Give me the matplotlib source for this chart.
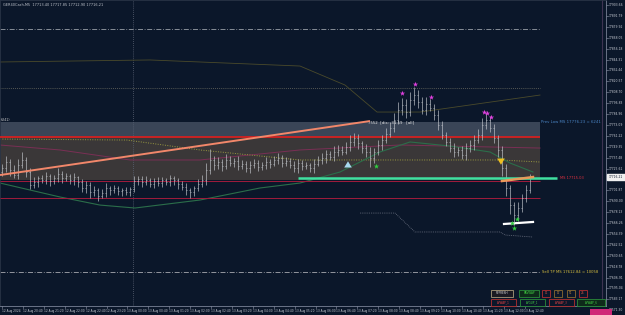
import matplotlib
matplotlib.use('Agg')
import matplotlib.pyplot as plt
from matplotlib.patches import Rectangle
from matplotlib.transforms import blended_transform_factory
import numpy as np

# ---- M5 bars (close prices + wick sizes in points)
first_open = 17722
closes = [
    17726, 17733, 17724, 17719, 17729, 17735, 17722, 17708, 17711, 17715,
    17713, 17717, 17712, 17715, 17720, 17715, 17717, 17713, 17716, 17711,
    17704, 17708, 17700, 17702, 17696, 17699, 17704, 17702, 17704, 17701,
    17702, 17700, 17703, 17712, 17714, 17711, 17713, 17709, 17712, 17710,
    17713, 17711, 17715, 17713, 17709, 17706, 17702, 17700, 17704, 17709,
    17713, 17724, 17735, 17729, 17733, 17728, 17735, 17732, 17734, 17728,
    17731, 17726, 17729, 17732, 17727, 17729, 17733, 17731, 17735, 17737,
    17732, 17734, 17729, 17726, 17732, 17728, 17729, 17726, 17731, 17735,
    17737, 17741, 17738, 17744, 17746, 17744, 17749, 17755, 17759, 17753,
    17748, 17744, 17737, 17744, 17751, 17757, 17763, 17770, 17778, 17789,
    17795, 17787, 17800, 17806, 17798, 17789, 17796, 17792, 17784, 17773,
    17762, 17755, 17748, 17744, 17746, 17740, 17748, 17751, 17757, 17762,
    17773, 17778, 17770, 17759, 17746, 17726, 17704, 17686, 17675, 17683,
    17693, 17702, 17716,
]
wick_up = [
    4, 6, 3, 5, 7, 9, 3, 4, 5, 3,
    4, 5, 3, 4, 6, 3, 4, 3, 5, 2,
    3, 4, 3, 5, 2, 4, 6, 3, 4, 3,
    2, 4, 3, 5, 4, 3, 4, 2, 3, 4,
    3, 2, 4, 3, 2, 3, 4, 2, 3, 5,
    6, 8, 12, 4, 5, 3, 6, 4, 3, 5,
    4, 3, 5, 4, 3, 4, 5, 3, 4, 6,
    3, 4, 3, 5, 4, 3, 4, 3, 5, 4,
    6, 5, 4, 6, 5, 4, 6, 7, 5, 4,
    3, 4, 5, 4, 6, 5, 7, 6, 8, 9,
    7, 6, 9, 8, 5, 6, 7, 5, 4, 5,
    4, 3, 4, 5, 3, 4, 5, 6, 5, 7,
    8, 8, 5, 4, 3, 4, 5, 4, 3, 6,
    5, 6, 4,
]
wick_dn = [
    5, 4, 6, 4, 5, 3, 6, 5, 4, 5,
    3, 4, 5, 3, 4, 5, 3, 4, 5, 6,
    4, 5, 7, 4, 6, 3, 4, 5, 3, 4,
    5, 3, 4, 3, 4, 5, 3, 4, 5, 3,
    4, 3, 4, 5, 6, 4, 5, 7, 4, 3,
    4, 5, 4, 5, 4, 5, 3, 4, 5, 4,
    3, 4, 5, 3, 4, 3, 4, 5, 3, 4,
    5, 4, 3, 4, 5, 4, 3, 4, 5, 3,
    4, 5, 3, 4, 5, 4, 3, 4, 5, 6,
    5, 6, 10, 5, 4, 5, 4, 3, 5, 4,
    5, 6, 4, 5, 6, 4, 5, 4, 6, 5,
    4, 5, 4, 6, 5, 4, 5, 4, 5, 4,
    5, 4, 5, 6, 8, 9, 8, 10, 11, 6,
    5, 4, 3,
]

# ---- levels
prev_low_ms = 17776.23
red_level = 17760.0
box_bottom = 17713.0
ms_level = 17715.03
crimson_levels = [17712.0, 17693.5]
sell_tp = 17612.84
dash_level = 17877.5
dot_level = 17813.3
last_price = 17716.21

# ---- drawn objects (bar index, price)
trend_x = [-0.5, 92]
trend_y = [17718.5, 17777.3]
orange_x = [125, 132.75]
orange_y = [17712.0, 17716.3]
white_x = [125.5, 132.75]
white_y = [17665.2, 17667.4]
ms_x = [74, 138.75]

green_ma_x = [-0.5, 14.5, 24.5, 33.25, 49.5, 64.5, 74.5, 84.5, 94.5, 102, 112, 122, 127, 132.75]
green_ma_y = [17709.8, 17694.6, 17685.8, 17682.6, 17691.3, 17704.4, 17709.8, 17721.8,
              17743.6, 17754.5, 17750.1, 17743.6, 17731.6, 17721.8]
olive_ma_x = [-0.5, 31.25, 49.5, 74.5, 99.5, 124.5, 134.5]
olive_ma_y = [17757.7, 17756.6, 17745.8, 17734.9, 17734.9, 17734.9, 17732.7]
top_ma_x = [-0.5, 37, 74.5, 85.75, 93.75, 104.5, 117, 134.5]
top_ma_y = [17841.6, 17843.8, 17837.2, 17816.5, 17787.1, 17787.1, 17794.8, 17805.6]
maroon_x = [-0.5, 14.5, 32, 49.5, 74.5, 99.5, 134.5]
maroon_y = [17751.2, 17745.8, 17734.9, 17734.9, 17745.8, 17751.2, 17747.9]
low_band_x = [89.5, 98.25, 103.25, 124.5, 125.75, 132.75]
low_band_y = [17677.1, 17677.1, 17656.5, 17656.5, 17653.2, 17651.0]

mag_x = [100, 103.25, 107.25, 120.5, 121.25, 122.25]
mag_y = [17807.8, 17818.0, 17803.5, 17787.1, 17786.0, 17781.7]
grn_x = [93.5, 128.75, 127.5, 128]
grn_y = [17728.3, 17670.6, 17666.3, 17660.8]
up_arrow = (86.5, 17730.5)
dn_arrow = (124.75, 17732.7)
day_sep = 32.75

price_labels = [17903.66, 17891.79, 17879.92, 17868.05, 17856.18, 17844.31, 17832.44,
                17820.57, 17808.70, 17796.83, 17784.96, 17773.09, 17761.22, 17749.35,
                17737.48, 17725.61, 17701.87, 17690.00, 17678.13, 17666.26, 17654.39,
                17642.52, 17630.65, 17618.78, 17606.91, 17595.04, 17583.17, 17571.30]
time_labels = ['12 Aug 2024', '12 Aug 20:40', '12 Aug 21:20', '12 Aug 22:00', '12 Aug 22:40',
               '12 Aug 23:20', '13 Aug 00:00', '13 Aug 00:40', '13 Aug 01:20', '13 Aug 02:00',
               '13 Aug 02:40', '13 Aug 03:20', '13 Aug 04:00', '13 Aug 04:40', '13 Aug 05:20',
               '13 Aug 06:00', '13 Aug 06:40', '13 Aug 07:20', '13 Aug 08:00', '13 Aug 08:40',
               '13 Aug 09:20', '13 Aug 10:00', '13 Aug 10:40', '13 Aug 11:20', '13 Aug 12:00',
               '13 Aug 12:40']

BG = '#0b172a'
fig = plt.figure(figsize=(6.25, 3.15), dpi=100, facecolor=BG)
ax = fig.add_axes([0, 9 / 315, 606 / 625, 306 / 315])
ax.set_facecolor(BG)
ax.set_xlim(-0.5, 151)
ax.set_ylim(17575.9, 17909.1)
ax.set_xticks([])
ax.set_yticks([])
for s in ['top', 'left']:
    ax.spines[s].set_color('#2a3446')
    ax.spines[s].set_linewidth(0.6)
for s in ['right', 'bottom']:
    ax.spines[s].set_color('#7a8296')
    ax.spines[s].set_linewidth(0.6)

# zone box
ax.add_patch(Rectangle((-0.5, red_level), 135, prev_low_ms - red_level, color='#3a4557', zorder=1, lw=0))
ax.add_patch(Rectangle((-0.5, box_bottom), 135, red_level - box_bottom, color='#3a3738', zorder=1, lw=0))

ax.hlines(dash_level, -0.5, 134.5, colors='#9aa0a8', lw=0.6, linestyles=(0, (6, 2, 1, 2)), zorder=2)
ax.hlines(dot_level, -0.5, 134.5, colors='#6e6e62', lw=0.6, linestyles=(0, (1, 1.5)), zorder=2)
ax.hlines(sell_tp, -0.5, 134.5, colors='#a8aab0', lw=0.6, linestyles=(0, (6, 2, 1, 2)), zorder=2)
ax.axvline(day_sep, color='#5a6274', lw=0.6, ls=(0, (1, 1.5)), zorder=2)
ax.axvline(150, color='#3e3452', lw=0.8, zorder=2)

ax.plot(top_ma_x, top_ma_y, color='#4a4a2a', lw=0.6, zorder=2)
ax.plot(maroon_x, maroon_y, color='#7a2f55', lw=0.7, zorder=2)
ax.plot(olive_ma_x, olive_ma_y, color='#9a9a40', lw=0.7, ls=(0, (1, 1.5)), zorder=2)
ax.plot(green_ma_x, green_ma_y, color='#2b6e4a', lw=0.8, zorder=2)
ax.plot(low_band_x, low_band_y, color='#6a7080', lw=0.6, ls=(0, (1, 1.2)), zorder=2)

ax.hlines(red_level, -0.5, 134.5, colors='#d42020', lw=1.3, zorder=3)
ax.hlines(crimson_levels, -0.5, 134.5, colors='#a01c3c', lw=0.7, zorder=3)

# bars
opens = [first_open] + closes[:-1]
for i, (o, c) in enumerate(zip(opens, closes)):
    hi = max(o, c) + wick_up[i]
    lo = min(o, c) - wick_dn[i]
    ax.vlines(i, lo, hi, colors='#c4c8ce', lw=0.45, zorder=4)
    ax.hlines(o, i - 0.22, i, colors='#c4c8ce', lw=0.45, zorder=4)
    ax.hlines(c, i, i + 0.22, colors='#c4c8ce', lw=0.45, zorder=4)

ax.plot(trend_x, trend_y, color='#f2876a', lw=1.4, zorder=5, solid_capstyle='butt')
ax.hlines(ms_level, ms_x[0], ms_x[1], colors='#3fe0a0', lw=1.8, zorder=5)
ax.plot(orange_x, orange_y, color='#e89a5a', lw=1.8, zorder=6)
ax.plot(white_x, white_y, color='#ffffff', lw=1.6, zorder=6)

ax.scatter(mag_x, mag_y, marker='*', s=16, color='#e040e0', zorder=7, lw=0)
ax.scatter(grn_x, grn_y, marker='*', s=16, color='#30d040', zorder=7, lw=0)
ax.annotate('', xy=(up_arrow[0], up_arrow[1] + 3), xytext=(up_arrow[0], up_arrow[1] - 2.5),
            arrowprops=dict(arrowstyle='simple,head_width=0.55,head_length=0.45,tail_width=0.22',
                            color='#a8d8ee', lw=0), zorder=7)
ax.annotate('', xy=(dn_arrow[0], dn_arrow[1] - 3), xytext=(dn_arrow[0], dn_arrow[1] + 2.5),
            arrowprops=dict(arrowstyle='simple,head_width=0.55,head_length=0.45,tail_width=0.22',
                            color='#f0c020', lw=0), zorder=7)

# texts
ax.text(0.005, 0.99, 'GER40Cash,M5  17713.40 17717.85 17712.90 17716.21', transform=ax.transAxes,
        color='#c0c4cc', fontsize=2.5, va='top', ha='left')
ax.text(-0.3, prev_low_ms + 2.5, '6241)', color='#d0d0d0', fontsize=2.3, va='center')
ax.text(91.5, prev_low_ms - 0.5, '7552  [dis: -31.59   [all]', color='#e8e8e8', fontsize=2.8, va='center')
ax.text(134.8, prev_low_ms, 'Prev Low MS 17776.23 = 6241', color='#4a84c4', fontsize=2.8, va='center')
ax.text(139.5, ms_level, 'MS 17715.03', color='#e03040', fontsize=2.6, va='center')
ax.text(135.0, sell_tp, 'Sell TP MS 17612.84 = 10058', color='#d8c040', fontsize=2.7, va='center')

# price scale
ty = blended_transform_factory(fig.transFigure, ax.transData)
for p in price_labels:
    ax.text(609 / 625, p, '%.2f' % p, transform=ty, color='#c8ccd4', fontsize=2.2,
            va='center', ha='left', clip_on=False)
    ax.plot([606 / 625, 608 / 625], [p, p], transform=ty, color='#7a8296', lw=0.5, clip_on=False)
ax.add_patch(Rectangle((607 / 625, last_price - 3.2), 18 / 625, 6.4, transform=ty,
                       color='#f0f0f0', clip_on=False, zorder=8))
ax.text(609 / 625, last_price, '%.2f' % last_price, transform=ty, color='#0b172a', fontsize=2.2,
        va='center', ha='left', clip_on=False, zorder=9)

# time scale
tx = blended_transform_factory(ax.transData, fig.transFigure)
for k, lab in enumerate(time_labels):
    xb = k * 5.225
    ax.text(xb, 4 / 315, lab, transform=tx, color='#c8ccd4', fontsize=2.1,
            va='center', ha='left', clip_on=False)
    ax.plot([xb, xb], [9 / 315, 7 / 315], transform=tx, color='#7a8296', lw=0.5, clip_on=False)

# panel buttons (figure pixels)
def button(label, x0, y0, w, h, edge, fg, face='#0b172a'):
    fig.add_artist(Rectangle((x0 / 625, 1 - (y0 + h) / 315), w / 625, h / 315,
                             transform=fig.transFigure, facecolor=face, edgecolor=edge, lw=0.6))
    fig.text((x0 + w / 2) / 625, 1 - (y0 + h / 2) / 315, label, color=fg, fontsize=2.0,
             ha='center', va='center')

button('REFRESH', 491, 290, 22, 7, '#a89a7a', '#d8d8d8', '#1a1a22')
button('RAVWAP', 519, 290, 20, 7, '#2a8a3a', '#40d040', '#0e2a1a')
button('11', 542, 290, 8, 7, '#b03030', '#e05040')
button('17', 554, 290, 8, 7, '#8a6a30', '#d09040')
button('T1', 567, 290, 8, 7, '#8a6a30', '#d09040')
button('26', 579, 290, 8, 7, '#b03030', '#e05040')
button('AVWAP_1', 491, 299, 25, 7, '#b03030', '#e04040')
button('AVGUP_1', 520, 299, 25, 7, '#2a8a3a', '#40d040')
button('AVWAP_3', 549, 299, 25, 7, '#b03030', '#e04040')
button('AVWAP_6', 577, 299, 28, 7, '#2a8a3a', '#40d040', '#0e2a1a')
fig.add_artist(Rectangle((590 / 625, 0), 22 / 625, 6 / 315, transform=fig.transFigure,
                         facecolor='#d02878', edgecolor='none'))

fig.savefig('out.png', dpi=100, facecolor=BG)
